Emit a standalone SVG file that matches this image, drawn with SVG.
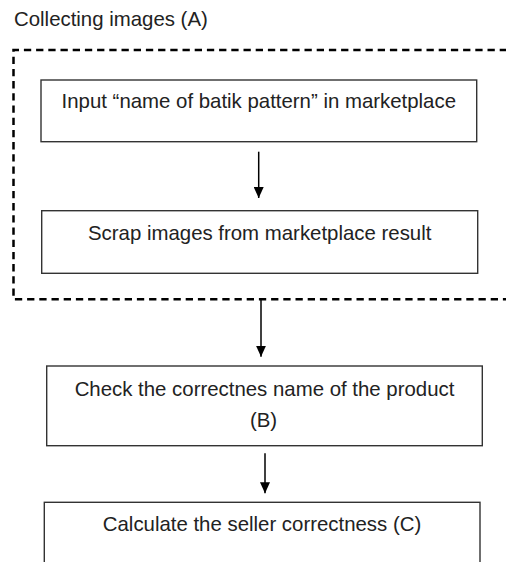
<svg xmlns="http://www.w3.org/2000/svg" width="506" height="562" viewBox="0 0 506 562">
  <style>
    .t { font-family: "Liberation Sans", Arial, sans-serif; font-size: 20.4px; fill: #222; }
    .box { fill: #fff; stroke: #333; stroke-width: 1.4; }
    .conn { stroke: #000; stroke-width: 1.5; fill: none; }
    .dash { fill: none; stroke: #000; stroke-width: 2.5; stroke-dasharray: 7.3 4.9; }
  </style>
  <defs>
    <marker id="ah" markerUnits="userSpaceOnUse" markerWidth="11" markerHeight="10" refX="11" refY="5" orient="auto">
      <path d="M0,0 L11,5 L0,10 z" fill="#000"/>
    </marker>
  </defs>
  <rect x="0" y="0" width="506" height="562" fill="#fff"/>
  <g id="groupA">
    <path class="dash" d="M507,50 H13.5 V299.3 H507"/>
    <text class="t" x="14" y="26">Collecting images (A)</text>
  </g>
  <g id="node1">
    <rect class="box" x="41" y="80" width="435.7" height="61.7"/>
    <text class="t" x="258.8" y="108" text-anchor="middle">Input “name of batik pattern” in marketplace</text>
  </g>
  <g id="node2">
    <rect class="box" x="41.7" y="210.7" width="436" height="62.6"/>
    <text class="t" x="259.7" y="239.5" text-anchor="middle">Scrap images from marketplace result</text>
  </g>
  <g id="node3">
    <rect class="box" x="46.7" y="366" width="435.6" height="79.7"/>
    <text class="t" x="264.5" y="396" text-anchor="middle">Check the correctnes name of the product</text>
    <text class="t" x="263.5" y="427" text-anchor="middle">(B)</text>
  </g>
  <g id="node4">
    <rect class="box" x="44.3" y="502.3" width="435.7" height="80"/>
    <text class="t" x="262" y="530.5" text-anchor="middle">Calculate the seller correctness (C)</text>
  </g>
  <g id="connectors">
    <line class="conn" x1="258.7" y1="151.7" x2="258.7" y2="198" marker-end="url(#ah)"/>
    <line class="conn" x1="261" y1="299" x2="261" y2="356.7" marker-end="url(#ah)"/>
    <line class="conn" x1="265" y1="453.3" x2="265" y2="493.3" marker-end="url(#ah)"/>
  </g>
</svg>
